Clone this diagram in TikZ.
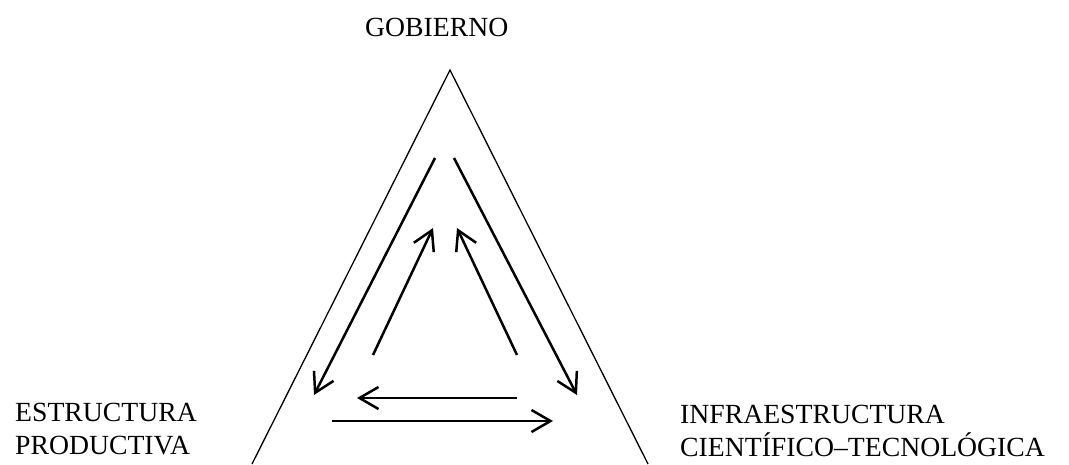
\documentclass[tikz,border=0pt]{standalone}
\usepackage{fontspec}
\setmainfont{Liberation Serif}
\usetikzlibrary{arrows.meta}
\begin{document}
\begin{tikzpicture}[x=1pt,y=-1pt,
  lbl/.style={font=\fontsize{27.7}{33}\selectfont, inner sep=0pt, anchor=base west, align=left},
  frame/.style={line width=1.3pt},
  flow/.style={line width=2.5pt, -{Straight Barb[length=19pt,width=22pt]}}]
\useasboundingbox (0,0) rectangle (1069,464);
% labels
\node[lbl] (gob) at (365,36) {GOBIERNO};
\node[lbl] (est) at (15,454) {ESTRUCTURA\\PRODUCTIVA};
\node[lbl] (inf) at (680,456) {INFRAESTRUCTURA\\CIENTÍFICO–TECNOLÓGICA};
% triangle
\coordinate (apex) at (450,70);
\coordinate (bl) at (252,464);
\coordinate (br) at (648,464);
\draw[frame] (bl) -- (apex) -- (br);
% arrow end points
\coordinate (a1s) at (435,158); \coordinate (a1e) at (314,395);
\coordinate (a2s) at (454,158); \coordinate (a2e) at (577,395);
\coordinate (a3s) at (373,355); \coordinate (a3e) at (433,228);
\coordinate (a4s) at (517,355); \coordinate (a4e) at (457,228);
\coordinate (a5s) at (517,398); \coordinate (a5e) at (357,398);
\coordinate (a6s) at (332,421); \coordinate (a6e) at (553,421);
\draw[flow] (a1s) -- (a1e);
\draw[flow] (a2s) -- (a2e);
\draw[flow] (a3s) -- (a3e);
\draw[flow] (a4s) -- (a4e);
\draw[flow] (a5s) -- (a5e);
\draw[flow] (a6s) -- (a6e);
\end{tikzpicture}
\end{document}
